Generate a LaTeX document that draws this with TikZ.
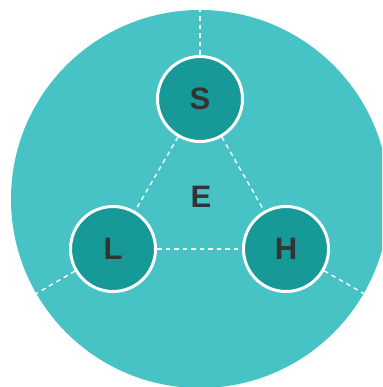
\documentclass[tikz,border=0pt]{standalone}
\usepackage{fontspec}
\setmainfont{Liberation Sans}
\definecolor{lightteal}{RGB}{71,195,198}
\definecolor{darkteal}{RGB}{23,153,152}
\definecolor{txt}{RGB}{51,51,51}
\begin{document}
\begin{tikzpicture}[x=1pt,y=1pt,
  bigdisc/.style={fill=lightteal},
  disc/.style={circle,fill=darkteal,draw=white,line width=3pt,minimum size=85pt,inner sep=0pt,
    font=\fontsize{31}{31}\selectfont\bfseries,text=txt},
  link/.style={draw=white,line width=1.4pt,dash pattern=on 4.5pt off 4pt}]
\useasboundingbox (0,0) rectangle (382,387);
\begin{scope}
\clip (0,0) rectangle (382,387);
\fill[bigdisc] (200,188) circle[radius=189];
\end{scope}
\coordinate (top) at (200,381);
\coordinate (lo) at ({200-189*0.866},{188-94.5});
\coordinate (ro) at ({200+189*0.866},{188-94.5});
\node[disc] (S) at (200,288) {S};
\node[disc] (L) at (113,138) {L};
\node[disc] (H) at (286,138) {H};
\node[font=\fontsize{31}{31}\selectfont\bfseries,text=txt] (E) at (201,190) {E};
\draw[link] (S) -- (top);
\draw[link] (L) -- (lo);
\draw[link] (H) -- (ro);
\draw[link] (S) -- (L);
\draw[link] (S) -- (H);
\draw[link] (L) -- (H);
\end{tikzpicture}
\end{document}
